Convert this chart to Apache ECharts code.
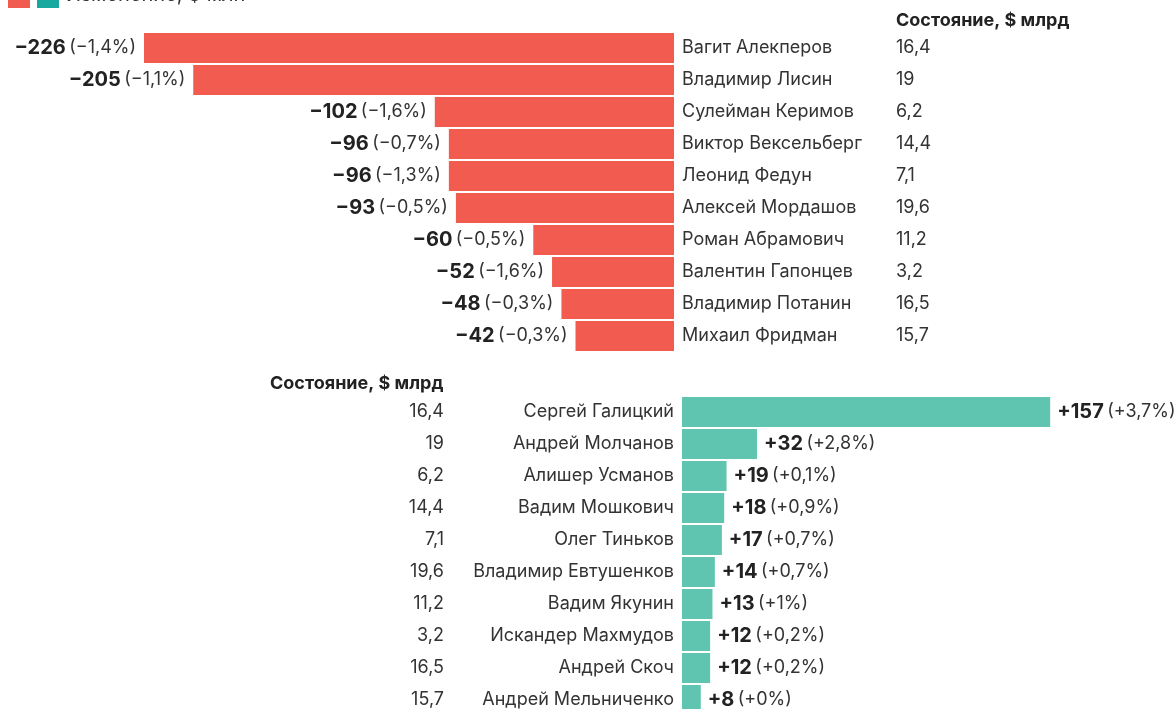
<!DOCTYPE html>
<html>
<head>
<meta charset="utf-8">
<script src="https://cdn.jsdelivr.net/npm/echarts@6/dist/echarts.min.js"></script>
<style>
  html, body { margin: 0; padding: 0; background: #fff; overflow: hidden; }
  #chart { width: 1176px; height: 720px; }
</style>
</head>
<body>
<div id="chart"></div>
<script>
// данные
var topNames = ['Вагит Алекперов', 'Владимир Лисин', 'Сулейман Керимов', 'Виктор Вексельберг', 'Леонид Федун',
  'Алексей Мордашов', 'Роман Абрамович', 'Валентин Гапонцев', 'Владимир Потанин', 'Михаил Фридман'];
var topChange = [-226, -205, -102, -96, -96, -93, -60, -52, -48, -42];
var topPct = ['−1,4%', '−1,1%', '−1,6%', '−0,7%', '−1,3%', '−0,5%', '−0,5%', '−1,6%', '−0,3%', '−0,3%'];
var topWealth = ['16,4', '19', '6,2', '14,4', '7,1', '19,6', '11,2', '3,2', '16,5', '15,7'];

var bottomNames = ['Сергей Галицкий', 'Андрей Молчанов', 'Алишер Усманов', 'Вадим Мошкович', 'Олег Тиньков',
  'Владимир Евтушенков', 'Вадим Якунин', 'Искандер Махмудов', 'Андрей Скоч', 'Андрей Мельниченко'];
var bottomChange = [157, 32, 19, 18, 17, 14, 13, 12, 12, 8];
var bottomPct = ['+3,7%', '+2,8%', '+0,1%', '+0,9%', '+0,7%', '+0,7%', '+1%', '+0,2%', '+0,2%', '+0%'];
var bottomWealth = ['16,4', '19', '6,2', '14,4', '7,1', '19,6', '11,2', '3,2', '16,5', '15,7'];

var RED = '#f25b4f', TEAL = '#60c5b0', TEAL_DARK = '#17a9a0';
var FONT = 'Inter, "Noto Sans", sans-serif';
var TXT = '#333';

var rich = {
  b: { fontFamily: FONT, fontSize: 20, fontWeight: 'bold', color: '#222' },
  n: { fontFamily: FONT, fontSize: 18, color: TXT }
};

// контейнер чуть выше окна, чтобы последняя строка обрезалась как в оригинале
var myChart = echarts.init(document.getElementById('chart'));

function numStr(v) {
  if (v < 0) return '−' + Math.abs(v);
  return '+' + v;
}

var option = {
  animation: false,
  textStyle: { fontFamily: FONT },
  grid: [
    { left: 144, width: 530, top: 32, height: 320 },
    { left: 682, width: 469, top: 396, height: 320 }
  ],
  xAxis: [
    { gridIndex: 0, type: 'value', min: -226, max: 0, show: false },
    { gridIndex: 1, type: 'value', min: 0, max: 200, show: false }
  ],
  yAxis: [
    {
      gridIndex: 0, type: 'category', data: topNames, inverse: true, position: 'right',
      axisLine: { show: false }, axisTick: { show: false },
      axisLabel: { margin: 8, align: 'left', fontSize: 18, color: TXT, fontFamily: FONT }
    },
    {
      gridIndex: 0, type: 'category', data: topWealth, inverse: true, position: 'right', offset: 214,
      axisLine: { show: false }, axisTick: { show: false },
      axisLabel: { margin: 8, align: 'left', fontSize: 18, color: TXT, fontFamily: FONT }
    },
    {
      gridIndex: 1, type: 'category', data: bottomNames, inverse: true, position: 'left',
      axisLine: { show: false }, axisTick: { show: false },
      axisLabel: { margin: 8, align: 'right', fontSize: 18, color: TXT, fontFamily: FONT }
    },
    {
      gridIndex: 1, type: 'category', data: bottomWealth, inverse: true, position: 'left', offset: 230,
      axisLine: { show: false }, axisTick: { show: false },
      axisLabel: { margin: 8, align: 'right', fontSize: 18, color: TXT, fontFamily: FONT }
    }
  ],
  title: [
    { text: 'Состояние, $ млрд', left: 896, top: 12, padding: 0,
      textStyle: { fontFamily: FONT, fontSize: 18, fontWeight: 'bold', color: '#222' } },
    { text: 'Состояние, $ млрд', left: 270, top: 375, padding: 0,
      textStyle: { fontFamily: FONT, fontSize: 18, fontWeight: 'bold', color: '#222' } }
  ],
  graphic: [
    { type: 'rect', left: 8, top: -14, shape: { width: 22, height: 22 }, style: { fill: RED } },
    { type: 'rect', left: 37, top: -14, shape: { width: 22, height: 22 }, style: { fill: TEAL_DARK } },
    { type: 'text', left: 66, top: -15,
      style: { text: 'Изменение, $ млн', fontFamily: FONT, fontSize: 20, fill: '#333' } }
  ],
  series: [
    {
      type: 'bar', xAxisIndex: 0, yAxisIndex: 0, data: topChange, barWidth: 30,
      itemStyle: { color: RED },
      label: {
        show: true, position: 'left', distance: 8,
        formatter: function (p) {
          return '{b|' + numStr(topChange[p.dataIndex]) + '} {n|(' + topPct[p.dataIndex] + ')}';
        },
        rich: rich
      }
    },
    {
      type: 'bar', xAxisIndex: 1, yAxisIndex: 2, data: bottomChange, barWidth: 30,
      itemStyle: { color: TEAL },
      label: {
        show: true, position: 'right', distance: 7,
        formatter: function (p) {
          return '{b|' + numStr(bottomChange[p.dataIndex]) + '} {n|(' + bottomPct[p.dataIndex] + ')}';
        },
        rich: rich
      }
    }
  ]
};

myChart.setOption(option);
</script>
</body>
</html>
